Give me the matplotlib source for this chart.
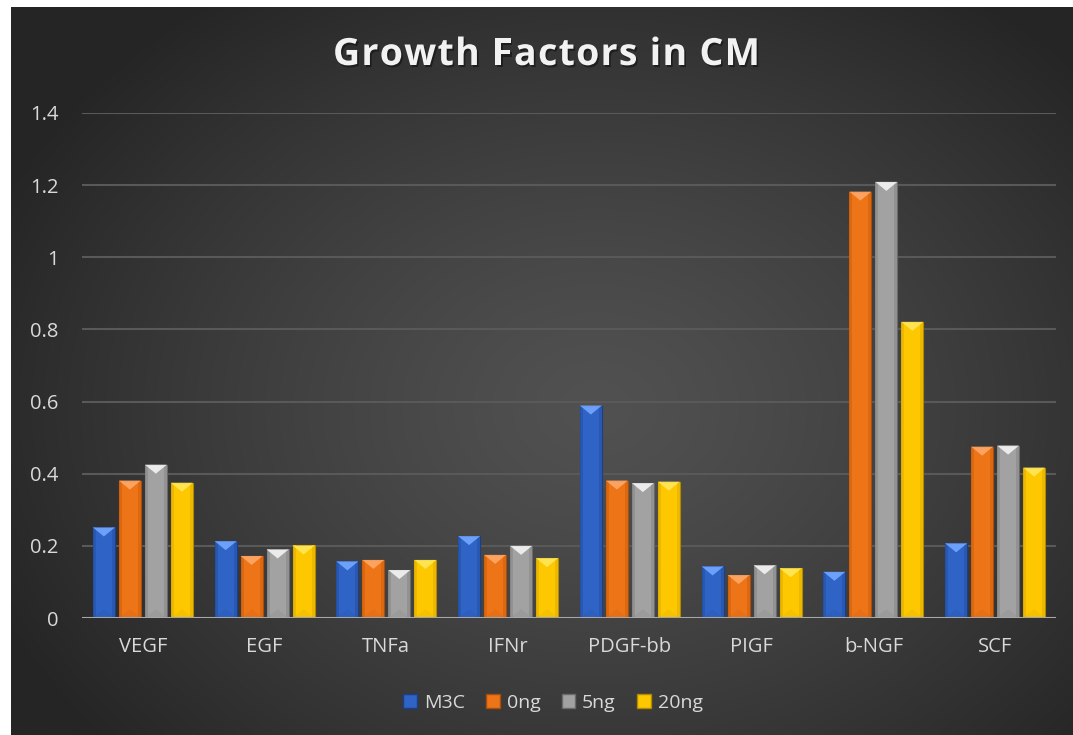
import numpy as np
import matplotlib
matplotlib.use("Agg")
import matplotlib.pyplot as plt
import matplotlib.patheffects as pe
from matplotlib.patches import Polygon, Rectangle, Patch

categories = ["VEGF", "EGF", "TNFa", "IFNr", "PDGF-bb", "PIGF", "b-NGF", "SCF"]
series_names = ["M3C", "0ng", "5ng", "20ng"]
m3c = [0.251, 0.213, 0.157, 0.227, 0.589, 0.143, 0.128, 0.207]
ng0 = [0.381, 0.172, 0.161, 0.175, 0.381, 0.119, 1.182, 0.475]
ng5 = [0.425, 0.190, 0.133, 0.200, 0.374, 0.146, 1.209, 0.478]
ng20 = [0.375, 0.201, 0.161, 0.166, 0.378, 0.138, 0.821, 0.417]
yticks = [0, 0.2, 0.4, 0.6, 0.8, 1, 1.2, 1.4]
ytick_labels = ["0", "0.2", "0.4", "0.6", "0.8", "1", "1.2", "1.4"]
title = "Growth Factors in CM"

series = [m3c, ng0, ng5, ng20]
base_colors = ["#2f63c6", "#ee7418", "#a2a2a2", "#fdc800"]
edge_colors = ["#1c3e86", "#a84e0c", "#6a6a6a", "#b08a00"]
top_colors = ["#74a8ff", "#ffa868", "#f4f4f4", "#ffe85a"]
side_colors = ["#2856ad", "#d8650f", "#8e8e8e", "#e8b400"]

W, H, DPI = 1073, 735, 100
fig = plt.figure(figsize=(W / DPI, H / DPI), dpi=DPI, facecolor="white")

# background panel with radial gradient
bx0 = 11 / W
bg = fig.add_axes([bx0, 0.0, 1 - bx0, 1 - 7 / H])
bg.set_axis_off()
ny, nx = 300, 440
yy, xx = np.mgrid[0:ny, 0:nx]
cx, cy = nx * 0.55, ny * 0.55
d = np.sqrt(((xx - cx) / (nx * 0.62)) ** 2 + ((yy - cy) / (ny * 0.70)) ** 2)
d = np.clip(d, 0, 1)
inner, outer = 0x51, 0x25
g = (inner + (outer - inner) * d ** 1.3) / 255.0
img = np.dstack([g, g, g])
bg.imshow(img, aspect="auto", extent=[0, 1, 0, 1], origin="upper", interpolation="bilinear")
bg.set_xlim(0, 1)
bg.set_ylim(0, 1)

left, right = 82 / W, 1056 / W
bottom, top = 1 - 618 / H, 1 - 113 / H
ax = fig.add_axes([left, bottom, right - left, top - bottom])
ax.set_facecolor("none")
ax.set_xlim(-0.5, len(categories) - 0.5)
ax.set_ylim(0, 1.4)

for s in ax.spines.values():
    s.set_visible(False)
ax.set_yticks(yticks)
ax.set_yticklabels(ytick_labels)
ax.yaxis.grid(True, color="#595959", linewidth=1.5)
ax.set_axisbelow(True)
ax.axhline(0, color="#a8a8a8", linewidth=2.2, zorder=5)
ax.set_xticks(np.arange(len(categories)))
ax.set_xticklabels(categories)
ax.tick_params(axis="both", length=0, colors="#d9d9d9", labelsize=14.5)
ax.tick_params(axis="y", pad=17)
ax.tick_params(axis="x", pad=14)
for lab in ax.get_xticklabels() + ax.get_yticklabels():
    lab.set_fontfamily("Open Sans")
    lab.set_color("#d9d9d9")

# pixel conversions
ax_h_px = (top - bottom) * H
ax_w_px = (right - left) * W
dy_px = 1.4 / ax_h_px
dx_px = len(categories) / ax_w_px

step = 0.2135
bw = 0.18
x = np.arange(len(categories))
for i, vals in enumerate(series):
    bars = ax.bar(x + (i - 1.5) * step, vals, bw, color=base_colors[i],
                  edgecolor=edge_colors[i], linewidth=0.8, zorder=3)
    for r in bars:
        x0 = r.get_x()
        w = r.get_width()
        h = r.get_height()
        x1 = x0 + w
        xc = x0 + w / 2
        sw = 3 * dx_px
        ax.add_patch(Rectangle((x0, 0), sw, h, facecolor=side_colors[i], edgecolor="none", zorder=3.5, alpha=0.8))
        ax.add_patch(Rectangle((x1 - sw, 0), sw, h, facecolor=side_colors[i], edgecolor="none", zorder=3.5, alpha=0.8))
        th = 9 * dy_px
        ax.add_patch(Polygon([(x0, h), (x1, h), (xc, h - th)], closed=True,
                             facecolor=top_colors[i], edgecolor="none", zorder=4, alpha=0.9))
        ax.add_patch(Polygon([(x0, 0), (x1, 0), (xc, th)], closed=True,
                             facecolor=side_colors[i], edgecolor="none", zorder=4, alpha=0.3))

# title with letter spacing, drawn glyph by glyph
renderer = fig.canvas.get_renderer()
tprops = dict(fontsize=27, fontweight="bold", family="Open Sans", color="#f2f2f2",
              va="center", ha="left")
shadow = [pe.withSimplePatchShadow(offset=(1.2, -1.5), shadow_rgbFace="#101010", alpha=0.6)]
t_left, t_right = 333, 760
widths = []
for ch in title:
    if ch == " ":
        tmp = fig.text(0, 0, "a a", **tprops)
        wa = fig.text(0, 0, "aa", **tprops)
        widths.append(tmp.get_window_extent(renderer).width - wa.get_window_extent(renderer).width)
        tmp.remove(); wa.remove()
    else:
        tmp = fig.text(0, 0, ch, **tprops)
        widths.append(tmp.get_window_extent(renderer).width)
        tmp.remove()
total = sum(widths)
extra = ((t_right - t_left) - total) / (len(title) - 1)
xpos = t_left
for ch, wch in zip(title, widths):
    if ch != " ":
        fig.text(xpos / W, 1 - 55 / H, ch, path_effects=shadow, **tprops)
    xpos += wch + extra

handles = [Patch(facecolor=base_colors[i], edgecolor=edge_colors[i]) for i in range(4)]
leg = fig.legend(handles, series_names, loc="center", bbox_to_anchor=(553 / W, 1 - 703 / H),
                 ncol=4, frameon=False, handlelength=0.7, handleheight=0.7,
                 handletextpad=0.35, columnspacing=1.1,
                 prop={"family": "Open Sans", "size": 14})
for t in leg.get_texts():
    t.set_color("#d9d9d9")

fig.savefig("out.png", dpi=DPI, facecolor="white")
